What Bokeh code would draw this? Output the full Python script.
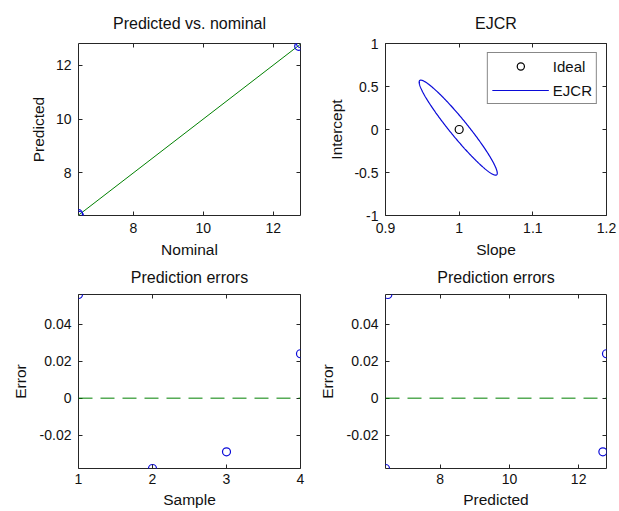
import numpy as np
from bokeh.plotting import figure
from bokeh.layouts import gridplot
from bokeh.models import (Range1d, FixedTicker, LinearAxis, CustomJSTickFormatter, Span,
                          CustomLabelingPolicy)
from bokeh.embed import file_html
from bokeh.resources import INLINE

# ---------------- data ----------------
samples = [1, 2, 3, 4]
nominal = [6.429, 6.455, 12.729, 12.781]
predicted = [6.485, 6.417, 12.700, 12.805]
errors = [p - n for p, n in zip(predicted, nominal)]

ideal_slope = [1.0]
ideal_intercept = [0.0]
# EJCR ellipse: centre and two conjugate half-axes (slope, intercept)
ejcr_center = [0.9987, 0.0215]
ejcr_half_axis_1 = [0.0522, -0.5485]
ejcr_half_axis_2 = [0.0092, 0.0650]

# axis limits / ticks
ejcr_xlim = [0.9, 1.2]
ejcr_ylim = [-1.0, 1.0]
ticks_nominal = [8, 10, 12]
ticks_predicted = [8, 10, 12]
ticks_slope = [0.9, 1.0, 1.1, 1.2]
ticks_intercept = [-1.0, -0.5, 0.0, 0.5, 1.0]
ticks_sample = [1, 2, 3, 4]
ticks_error = [-0.02, 0.0, 0.02, 0.04]

# ---------------- style ----------------
FONT = "Liberation Sans"
TXT = "#111111"
FRAME = "#262626"
BLUE = "#0a0ad8"
GREEN = "#008000"
FMT = "return String(Math.round(tick*1e6)/1e6);"


def make_fig(title, xlabel, ylabel, xr, yr, xt, yt, w, h, bl, br, bt, bb,
             tstand=10, xstand=7, ylstand=6, xlstand=4):
    p = figure(width=w, height=h, x_range=xr, y_range=yr, title=title,
               output_backend="svg", toolbar_location=None, tools="",
               min_border_left=bl, min_border_right=br,
               min_border_top=bt, min_border_bottom=bb)
    p.background_fill_color = "white"
    p.border_fill_color = "white"
    p.title.align = "center"
    p.title.text_font = FONT
    p.title.text_font_size = "16px"
    p.title.text_font_style = "normal"
    p.title.text_color = TXT
    p.title.standoff = tstand
    p.grid.visible = False
    p.outline_line_color = FRAME
    p.outline_line_width = 1
    p.outline_line_alpha = 1

    for ax, ticks in ((p.xaxis[0], xt), (p.yaxis[0], yt)):
        ax.ticker = FixedTicker(ticks=ticks)
        ax.formatter = CustomJSTickFormatter(code=FMT)
        ax.axis_line_color = None
        ax.major_tick_in = 4
        ax.major_tick_out = 0
        ax.major_tick_line_color = FRAME
        ax.minor_tick_line_color = None
        ax.major_label_text_font = FONT
        ax.major_label_text_font_size = "14px"
        ax.major_label_text_color = TXT
        ax.axis_label_text_font = FONT
        ax.axis_label_text_font_size = "15.5px"
        ax.axis_label_text_font_style = "normal"
        ax.axis_label_text_color = TXT
    p.xaxis[0].axis_label = xlabel
    p.yaxis[0].axis_label = ylabel
    p.xaxis[0].major_label_standoff = xstand
    p.xaxis[0].axis_label_standoff = xlstand
    p.yaxis[0].major_label_standoff = 7
    p.yaxis[0].axis_label_standoff = ylstand

    # box ticks on top and right, without labels
    for loc, ticks in (("above", xt), ("right", yt)):
        ax = LinearAxis(ticker=FixedTicker(ticks=ticks))
        ax.axis_line_color = None
        ax.major_tick_in = 4
        ax.major_tick_out = 0
        ax.major_tick_line_color = FRAME
        ax.minor_tick_line_color = None
        ax.major_label_text_font_size = "1px"
        ax.major_label_standoff = 0
        ax.major_label_policy = CustomLabelingPolicy(code="return [];")
        p.add_layout(ax, loc)
    return p


# ---- top-left: predicted vs nominal ----
p1 = make_fig("Predicted vs. nominal", "Nominal", "Predicted",
              Range1d(min(nominal), max(nominal)),
              Range1d(min(predicted), max(predicted)),
              ticks_nominal, ticks_predicted,
              309, 261, 78, 9, 43, 46, tstand=16, xlstand=5)
line_x = sorted(nominal)
p1.line(x=line_x, y=line_x, line_color=GREEN, line_width=1)
p1.scatter(x=nominal, y=predicted, marker="circle", size=8,
           fill_color=None, line_color=BLUE, line_width=1.2)

# ---- top-right: EJCR ----
p2 = make_fig("EJCR", "Slope", "Intercept",
              Range1d(*ejcr_xlim), Range1d(*ejcr_ylim),
              ticks_slope, ticks_intercept,
              310, 261, 75, 13, 43, 46, tstand=16, xlstand=5)
t = np.linspace(0.0, 2.0 * np.pi, 361)
ex = ejcr_center[0] + ejcr_half_axis_1[0] * np.cos(t) + ejcr_half_axis_2[0] * np.sin(t)
ey = ejcr_center[1] + ejcr_half_axis_1[1] * np.cos(t) + ejcr_half_axis_2[1] * np.sin(t)
r_ellipse = p2.line(x=ex, y=ey, line_color=BLUE, line_width=1.2, legend_label="EJCR")
r_ideal = p2.scatter(x=ideal_slope, y=ideal_intercept, marker="circle", size=8,
                     fill_color=None, line_color="black", line_width=1.2,
                     legend_label="Ideal")
leg = p2.legend[0]
leg.items = [leg.items[1], leg.items[0]]
leg.location = "top_right"
leg.margin = 9
leg.padding = 4
leg.spacing = 6
leg.glyph_width = 57
leg.glyph_height = 18
leg.label_height = 18
leg.label_standoff = 4
leg.label_text_font = FONT
leg.label_text_font_size = "15px"
leg.label_text_color = TXT
leg.border_line_color = TXT
leg.border_line_width = 1
leg.background_fill_color = "white"
leg.background_fill_alpha = 1

# ---- bottom-left: errors vs sample ----
p3 = make_fig("Prediction errors", "Sample", "Error",
              Range1d(min(samples), max(samples)),
              Range1d(min(errors), max(errors)),
              ticks_sample, ticks_error,
              309, 250, 78, 8, 33, 43, tstand=10, xstand=5, ylstand=8)
p3.add_layout(Span(location=0, dimension="width", line_color=GREEN,
                   line_width=1, line_dash="14 8"))
p3.scatter(x=samples, y=errors, marker="circle", size=8,
           fill_color=None, line_color=BLUE, line_width=1.2)

# ---- bottom-right: errors vs predicted ----
p4 = make_fig("Prediction errors", "Predicted", "Error",
              Range1d(min(predicted), max(predicted)),
              Range1d(min(errors), max(errors)),
              ticks_predicted, ticks_error,
              310, 250, 76, 12, 33, 43, tstand=10, xstand=5, ylstand=8)
p4.add_layout(Span(location=0, dimension="width", line_color=GREEN,
                   line_width=1, line_dash="14 8"))
p4.scatter(x=predicted, y=errors, marker="circle", size=8,
           fill_color=None, line_color=BLUE, line_width=1.2)

grid = gridplot([[p1, p2], [p3, p4]], toolbar_location=None)

open("out.html", "w").write(file_html(grid, INLINE))
